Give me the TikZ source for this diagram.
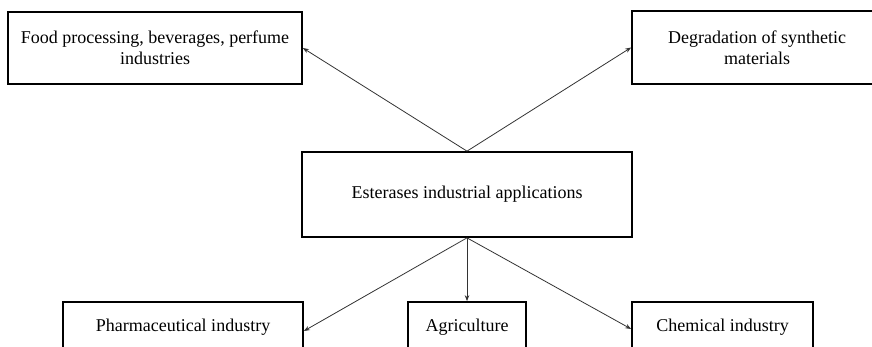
\documentclass[tikz,border=0pt]{standalone}
\usepackage{fontspec}
\setmainfont{Liberation Serif}
\usetikzlibrary{arrows.meta}
\begin{document}
\begin{tikzpicture}[x=1pt,y=-1pt,
  box/.style={draw=black, line width=1.7pt, fill=white, align=center,
    inner sep=0pt, font=\fontsize{18}{21}\selectfont},
  link/.style={draw=black!80, line width=0.8pt,
    -{Stealth[length=6pt,width=4.5pt]}}]
  \useasboundingbox (0,0) rectangle (872,346);
  \clip (0,0) rectangle (872,346);
  % upper row
  \node[box, minimum width=294pt, minimum height=72pt] (food) at (155,48)
    {Food processing, beverages, perfume\\industries};
  \node[box, minimum width=250pt, minimum height=73pt] (degr) at (757,47.5)
    {Degradation of synthetic\\materials};
  % hub
  \node[box, minimum width=330pt, minimum height=85pt] (hub) at (467,194.5)
    {Esterases industrial applications};
  % lower row
  \node[box, minimum width=240pt, minimum height=50pt] (pharm) at (183,327)
    {Pharmaceutical industry};
  \node[box, minimum width=118pt, minimum height=50pt] (agri) at (467,327)
    {Agriculture};
  \node[box, minimum width=181pt, minimum height=50pt] (chem) at (722.5,327)
    {Chemical industry};
  % connectors
  \draw[link] (hub.north) -- (food.east);
  \draw[link] (hub.north) -- (degr.west);
  \draw[link] (hub.south) -- ([yshift=-4pt]pharm.east);
  \draw[link] (hub.south) -- (agri.north);
  \draw[link] (hub.south) -- ([yshift=-2pt]chem.west);
\end{tikzpicture}
\end{document}
